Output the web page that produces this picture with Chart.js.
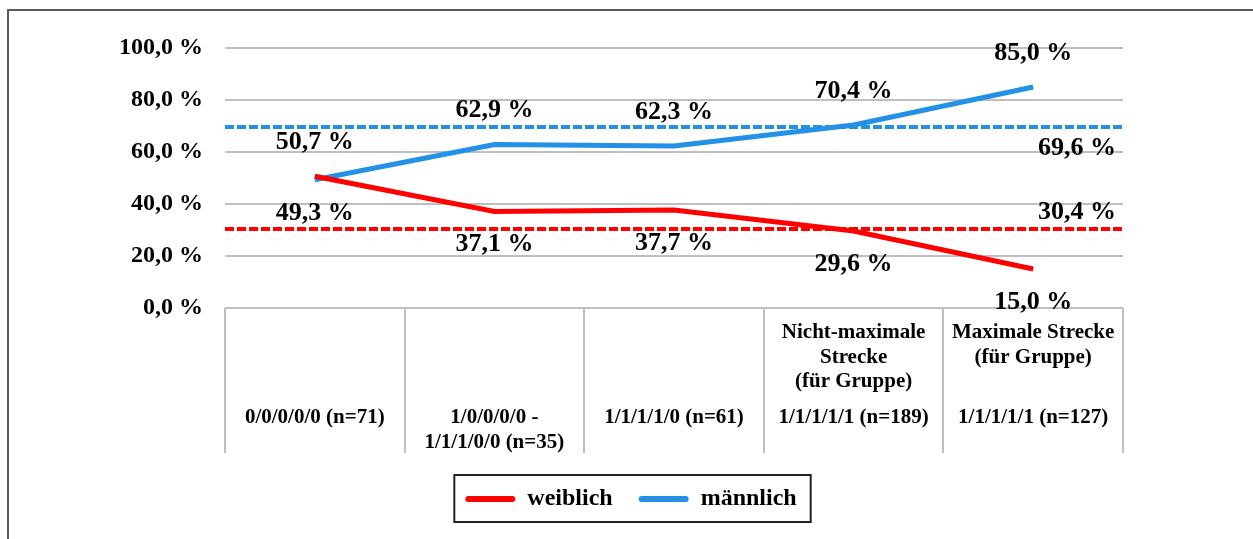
<!DOCTYPE html>
<html>
<head>
<meta charset="utf-8">
<script src="https://cdn.jsdelivr.net/npm/chart.js@4.4.0/dist/chart.umd.min.js"></script>
<style>
  html, body { margin: 0; padding: 0; background: #fff; overflow: hidden; }
  #frame { position: absolute; left: 7px; top: 9px; width: 1400px; height: 700px;
           border-top: 2px solid #5a5a5a; border-left: 2px solid #5a5a5a; }
  #chart { position: absolute; left: 0; top: 0; }
</style>
</head>
<body>
<div id="frame"></div>
<canvas id="chart" width="1253" height="539"></canvas>
<script>
// categories: description lines (upper block) and code lines (lower block)
const groups = ['0/0/0/0/0', '1/0/0/0/0 - 1/1/1/0/0', '1/1/1/1/0', 'Nicht-maximale Strecke', 'Maximale Strecke'];
const groupDesc = [
  [],
  [],
  [],
  ['Nicht-maximale', 'Strecke', '(für Gruppe)'],
  ['Maximale Strecke', '(für Gruppe)']
];
const groupCode = [
  ['0/0/0/0/0 (n=71)'],
  ['1/0/0/0/0 -', '1/1/1/0/0 (n=35)'],
  ['1/1/1/1/0 (n=61)'],
  ['1/1/1/1/1 (n=189)'],
  ['1/1/1/1/1 (n=127)']
];

const weiblich = [50.7, 37.1, 37.7, 29.6, 15.0];
const maennlich = [49.3, 62.9, 62.3, 70.4, 85.0];
const avgWeiblich = 30.4;
const avgMaennlich = 69.6;

const yMin = 0, yMax = 100, yStep = 20;

const RED = '#ff0000';
const BLUE = '#2391e6';
const GRID = '#bfbfbf';
const FONT = 'Liberation Serif';

const pct = v => v.toFixed(1).replace('.', ',') + ' %';

Chart.defaults.font.family = FONT;
Chart.defaults.font.weight = 'bold';
Chart.defaults.color = '#000';

const valueLabels = {
  id: 'valueLabels',
  afterDatasetsDraw(chart) {
    const ctx = chart.ctx;
    ctx.save();
    ctx.font = 'bold 26px ' + FONT;
    ctx.fillStyle = '#000';
    ctx.textAlign = 'center';
    ctx.textBaseline = 'middle';
    const series = [weiblich, maennlich];
    series.forEach((vals, d) => {
      const other = series[1 - d];
      chart.getDatasetMeta(d).data.forEach((pt, i) => {
        const above = vals[i] >= other[i];
        ctx.fillText(pct(vals[i]), pt.x, pt.y + (above ? -34 : 33));
      });
    });
    // average labels at the right end
    [[2, avgWeiblich], [3, avgMaennlich]].forEach(([d, v]) => {
      const pts = chart.getDatasetMeta(d).data;
      const last = pts[pts.length - 1];
      const above = v < 50;
      ctx.fillText(pct(v), last.x - 46, last.y + (above ? -17 : 21));
    });
    ctx.restore();
  }
};

const categoryLabels = {
  id: 'categoryLabels',
  afterDraw(chart) {
    const ctx = chart.ctx;
    const x = chart.scales.x;
    const base = chart.chartArea.bottom;
    ctx.save();
    ctx.font = 'bold 21px ' + FONT;
    ctx.fillStyle = '#000';
    ctx.textAlign = 'center';
    ctx.textBaseline = 'middle';
    groups.forEach((g, i) => {
      const cx = x.getPixelForValue(i);
      groupDesc[i].forEach((line, j) => ctx.fillText(line, cx, base + 25 + j * 24.5));
      groupCode[i].forEach((line, j) => ctx.fillText(line, cx, base + 110 + j * 25));
    });
    ctx.restore();
  }
};

const legendBox = {
  id: 'legendBox',
  afterDraw(chart) {
    const boxes = chart.legend.legendHitBoxes;
    if (!boxes || !boxes.length) return;
    const l = Math.min(...boxes.map(b => b.left)) - 11;
    const r = Math.max(...boxes.map(b => b.left + b.width)) + 14;
    const t = Math.min(...boxes.map(b => b.top)) - 12;
    const btm = Math.max(...boxes.map(b => b.top + b.height)) + 11;
    const ctx = chart.ctx;
    ctx.save();
    ctx.strokeStyle = '#222';
    ctx.lineWidth = 2;
    ctx.strokeRect(l, t, r - l, btm - t);
    ctx.restore();
  }
};

new Chart(document.getElementById('chart'), {
  type: 'line',
  data: {
    labels: groups,
    datasets: [
      {
        label: 'weiblich',
        data: weiblich,
        borderColor: RED,
        backgroundColor: RED,
        borderWidth: 5,
        pointRadius: 0,
        tension: 0
      },
      {
        label: 'männlich',
        data: maennlich,
        borderColor: BLUE,
        backgroundColor: BLUE,
        borderWidth: 5,
        pointRadius: 0,
        tension: 0
      },
      {
        label: 'Mittel weiblich',
        xAxisID: 'xAvg',
        data: [{ x: 0, y: avgWeiblich }, { x: 1, y: avgWeiblich }],
        borderColor: RED,
        borderWidth: 4,
        borderDash: [9, 3],
        pointRadius: 0
      },
      {
        label: 'Mittel männlich',
        xAxisID: 'xAvg',
        data: [{ x: 0, y: avgMaennlich }, { x: 1, y: avgMaennlich }],
        borderColor: BLUE,
        borderWidth: 4,
        borderDash: [9, 3],
        pointRadius: 0
      }
    ]
  },
  options: {
    responsive: false,
    animation: false,
    devicePixelRatio: 1,
    layout: { padding: { left: 9, right: 0, top: 48, bottom: 18 } },
    scales: {
      x: {
        type: 'category',
        offset: true,
        grid: {
          offset: true,
          drawOnChartArea: false,
          drawTicks: true,
          tickLength: 145,
          color: GRID,
          lineWidth: 2
        },
        border: { display: false },
        ticks: { display: false },
        afterFit: s => { s.height = 153; }
      },
      xAvg: {
        type: 'linear',
        display: false,
        min: 0,
        max: 1
      },
      y: {
        min: yMin,
        max: yMax,
        ticks: {
          stepSize: yStep,
          padding: 22,
          font: { size: 24, weight: 'bold' },
          callback: v => pct(v)
        },
        grid: { color: GRID, lineWidth: 2, drawTicks: false },
        border: { display: false },
        afterFit: s => { s.width = 216; }
      },
      // empty right-hand axis, only reserves the space right of the plot
      yRight: {
        position: 'right',
        min: yMin,
        max: yMax,
        grid: { display: false },
        border: { display: false },
        ticks: { display: false },
        afterFit: s => { s.width = 130; }
      }
    },
    plugins: {
      tooltip: { enabled: false },
      legend: {
        position: 'bottom',
        labels: {
          filter: item => item.datasetIndex < 2,
          boxWidth: 50,
          boxHeight: 6,
          padding: 26,
          useBorderRadius: true,
          borderRadius: 3,
          font: { size: 24, weight: 'bold' },
          generateLabels: chart =>
            Chart.defaults.plugins.legend.labels.generateLabels(chart)
              .map(item => ({ ...item, lineWidth: 0 }))
        }
      }
    }
  },
  plugins: [valueLabels, categoryLabels, legendBox]
});
</script>
</body>
</html>
